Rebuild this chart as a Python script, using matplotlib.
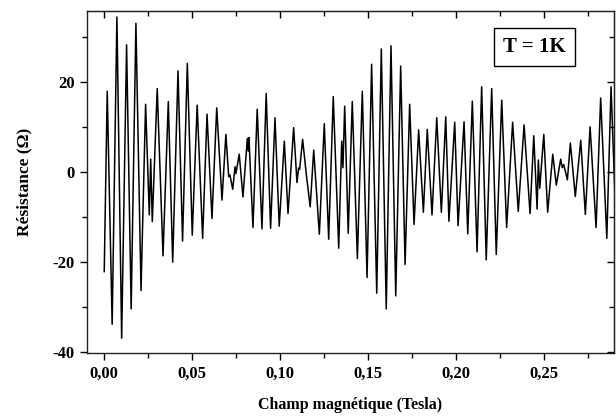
import matplotlib
matplotlib.use('Agg')
import matplotlib.pyplot as plt
from matplotlib.ticker import MultipleLocator, FuncFormatter

plt.rcParams['font.family'] = ['Liberation Serif', 'DejaVu Serif']
plt.rcParams['font.weight'] = 'bold'
plt.rcParams['axes.unicode_minus'] = False

# Extrema of the trace (field in Tesla, resistance in Ohm)
field = [
    0.0000, 0.0017, 0.0045, 0.0072, 0.0099, 0.0127, 0.0153, 0.0180, 0.0209, 0.0235,
    0.0256, 0.0264, 0.0273, 0.0301, 0.0334, 0.0364, 0.0389, 0.0419, 0.0445, 0.0472,
    0.0500, 0.0528, 0.0559, 0.0584, 0.0612, 0.0639, 0.0669, 0.0691, 0.0707, 0.0714,
    0.0730, 0.0743, 0.0748, 0.0767, 0.0788, 0.0813, 0.0818, 0.0822, 0.0845, 0.0869,
    0.0896, 0.0920, 0.0945, 0.0970, 0.0994, 0.1023, 0.1044, 0.1076, 0.1095, 0.1104,
    0.1110, 0.1127, 0.1148, 0.1170, 0.1190, 0.1222, 0.1250, 0.1275, 0.1301, 0.1332,
    0.1349, 0.1356, 0.1366, 0.1386, 0.1409, 0.1438, 0.1466, 0.1493, 0.1519, 0.1548,
    0.1574, 0.1602, 0.1629, 0.1656, 0.1684, 0.1709, 0.1735, 0.1760, 0.1786, 0.1813,
    0.1835, 0.1862, 0.1889, 0.1915, 0.1940, 0.1958, 0.1991, 0.2010, 0.2044, 0.2065,
    0.2091, 0.2118, 0.2144, 0.2170, 0.2201, 0.2227, 0.2258, 0.2286, 0.2320, 0.2352,
    0.2385, 0.2419, 0.2440, 0.2459, 0.2466, 0.2474, 0.2497, 0.2519, 0.2548, 0.2568,
    0.2593, 0.2602, 0.2610, 0.2631, 0.2648, 0.2676, 0.2707, 0.2733, 0.2760, 0.2794,
    0.2820, 0.2855, 0.2879, 0.2900,
]
resistance = [
    -22.2, 17.9, -33.9, 34.4, -37.0, 28.2, -30.5, 33.0, -26.4, 15.0,
    -9.6, 2.8, -11.1, 18.5, -18.7, 15.6, -20.1, 22.4, -15.4, 24.1,
    -14.1, 14.8, -14.8, 12.8, -10.4, 14.2, -6.3, 8.3, -1.1, -0.7,
    -3.9, 1.1, -0.4, 3.9, -5.6, 7.4, 4.6, 7.6, -12.4, 13.9,
    -12.7, 17.4, -12.6, 12.0, -12.1, 6.8, -9.3, 9.8, -2.4, 0.8,
    0.5, 7.2, -0.6, -7.8, 4.8, -13.9, 10.7, -15.0, 16.7, -17.0,
    6.8, 0.9, 14.6, -13.7, 15.6, -19.3, 17.9, -23.5, 23.9, -27.0,
    27.3, -30.5, 28.0, -27.6, 23.5, -20.6, 15.0, -11.7, 9.3, -9.0,
    9.4, -9.6, 12.0, -9.0, 12.2, -11.0, 11.0, -12.0, 11.1, -13.8,
    15.7, -17.8, 18.9, -19.6, 18.5, -18.4, 15.9, -12.4, 11.0, -8.8,
    10.4, -9.3, 8.0, -8.3, 2.6, -3.7, 8.3, -9.0, 3.9, -3.0,
    2.8, 0.9, 1.6, -1.8, 6.4, -5.5, 7.0, -9.5, 10.0, -12.4,
    16.4, -14.8, 18.9, -4.0,
]

fig = plt.figure(figsize=(6.16, 4.17), dpi=100)
ax = fig.add_axes([0.1412, 0.1535, 0.8556, 0.8208])

ax.plot(field, resistance, color='black', lw=1.1, solid_joinstyle='round')

ax.set_xlim(-0.0098, 0.2896)
ax.set_ylim(-40.3, 35.8)

ax.xaxis.set_major_locator(MultipleLocator(0.05))
ax.xaxis.set_minor_locator(MultipleLocator(0.025))
ax.yaxis.set_major_locator(MultipleLocator(20))
ax.yaxis.set_minor_locator(MultipleLocator(10))
ax.xaxis.set_major_formatter(FuncFormatter(lambda v, p: f'{v:.2f}'.replace('.', ',')))
ax.yaxis.set_major_formatter(FuncFormatter(lambda v, p: f'{v:.0f}'))

for s in ax.spines.values():
    s.set_linewidth(1.0)
    s.set_color('#222222')

ax.tick_params(which='both', direction='out', bottom=True, left=True,
               top=False, right=False, labelsize=12, width=1.0)
ax.tick_params(which='major', length=5, pad=4)
ax.tick_params(which='minor', length=3.5)

# mirrored ticks pointing inwards on top and right
top = ax.secondary_xaxis('top')
top.xaxis.set_major_locator(MultipleLocator(0.05))
top.xaxis.set_minor_locator(MultipleLocator(0.025))
top.tick_params(which='both', direction='in', labeltop=False, width=1.0)
top.tick_params(which='major', length=5)
top.tick_params(which='minor', length=3.5)
right = ax.secondary_yaxis('right')
right.yaxis.set_major_locator(MultipleLocator(20))
right.yaxis.set_minor_locator(MultipleLocator(10))
right.tick_params(which='both', direction='in', labelright=False, width=1.0)
right.tick_params(which='major', length=5)
right.tick_params(which='minor', length=3.5)

ax.set_xlabel('Champ magnétique (Tesla)', fontsize=11.5, fontweight='bold', labelpad=11)
ax.set_ylabel('Résistance (Ω)', fontsize=12.5, fontweight='bold', labelpad=14)

ax.text(0.849, 0.894, 'T = 1K', transform=ax.transAxes, ha='center', va='center',
        fontsize=15, fontweight='bold',
        bbox=dict(boxstyle='square,pad=0.45', fc='white', ec='black', lw=1.0))

fig.savefig('out.png', dpi=100)
